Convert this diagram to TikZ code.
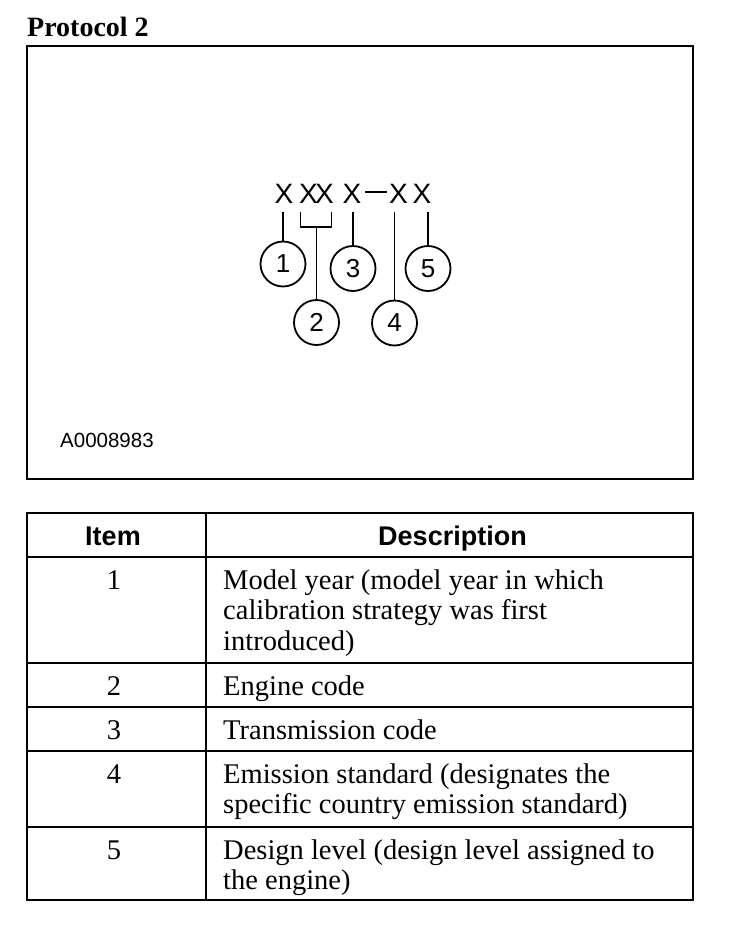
\documentclass[tikz,border=0pt]{standalone}
\usepackage{fontspec}
\setmainfont{Liberation Serif}
\newfontfamily\arial{Liberation Sans}
\begin{document}
\begin{tikzpicture}[x=1pt,y=-1pt,
  frame/.style={line width=2pt},
  lead/.style={line width=1.6pt},
  callout/.style={circle,draw,line width=1.8pt,minimum size=45pt,inner sep=0pt,font=\arial\fontsize{26}{26}\selectfont},
  xch/.style={anchor=base,inner sep=0pt,font=\arial\fontsize{28}{28}\selectfont},
  desc/.style={anchor=base west,inner sep=0pt,font=\fontsize{28.5}{30}\selectfont},
  itm/.style={anchor=base,inner sep=0pt,font=\fontsize{28.5}{30}\selectfont},
  hdr/.style={anchor=base,inner sep=0pt,font=\arial\bfseries\fontsize{27}{27}\selectfont}]
\useasboundingbox (0,0) rectangle (736,932);
% title
\node[anchor=base west,inner sep=0pt,font=\bfseries\fontsize{28}{28}\selectfont] (title) at (27,36) {Protocol 2};
% figure frame
\draw[frame] (27,46) rectangle (693,479);
% code characters
\node[xch] (x1) at (284,203) {X};
\node[xch] (x2a) at (308.5,203) {X};
\node[xch] (x2b) at (324.5,203) {X};
\node[xch] (x3) at (352,203) {X};
\node[xch] (x4) at (398.5,203) {X};
\node[xch] (x5) at (422,203) {X};
\coordinate (d1) at (365,192);
\coordinate (d2) at (387,192);
\draw[line width=2.5pt] (d1) -- (d2);
% callouts
\node[callout] (c1) at (283,264) {1};
\node[callout] (c2) at (316.5,322.5) {2};
\node[callout] (c3) at (353,268.5) {3};
\node[callout] (c4) at (394.5,323) {4};
\node[callout] (c5) at (428,268.5) {5};
% leaders
\coordinate (top) at (0,212);
\coordinate (b1) at (300.5,212);
\coordinate (b2) at (331.5,212);
\coordinate (b1d) at (300.5,227);
\coordinate (b2d) at (331.5,227);
\coordinate (bm) at (316.5,227);
\draw[lead] (b1) -- (b1d) -- (b2d) -- (b2);
\draw[lead] (bm) -- (c2.north);
\draw[lead] (c1.north |- top) -- (c1.north);
\draw[lead] (c3.north |- top) -- (c3.north);
\draw[lead] (c4.north |- top) -- (c4.north);
\draw[lead] (c5.north |- top) -- (c5.north);
% figure id
\node[anchor=base west,inner sep=0pt,font=\arial\fontsize{20.5}{20.5}\selectfont] (fid) at (60,447) {A0008983};
% table
\draw[frame] (27,513) rectangle (693,900);
\draw[frame] (206,513) -- (206,900);
\draw[frame] (27,557) -- (693,557);
\draw[frame] (27,663) -- (693,663);
\draw[frame] (27,707) -- (693,707);
\draw[frame] (27,751) -- (693,751);
\draw[frame] (27,827) -- (693,827);
\node[hdr] (hitem) at (113,545) {Item};
\node[hdr] (hdesc) at (452.5,545) {Description};
% rows
\node[itm] (i1) at (114,589) {1};
\node[desc] (d1a) at (223,589) {Model year (model year in which};
\node[desc] (d1b) at (223,619.5) {calibration strategy was first};
\node[desc] (d1c) at (223,650) {introduced)};
\node[itm] (i2) at (114,695) {2};
\node[desc] (d2a) at (223,695) {Engine code};
\node[itm] (i3) at (114,739) {3};
\node[desc] (d3a) at (223,739) {Transmission code};
\node[itm] (i4) at (114,783) {4};
\node[desc] (d4a) at (223,783) {Emission standard (designates the};
\node[desc] (d4b) at (223,813.5) {specific country emission standard)};
\node[itm] (i5) at (114,859) {5};
\node[desc] (d5a) at (223,859) {Design level (design level assigned to};
\node[desc] (d5b) at (223,889.5) {the engine)};
\end{tikzpicture}
\end{document}
